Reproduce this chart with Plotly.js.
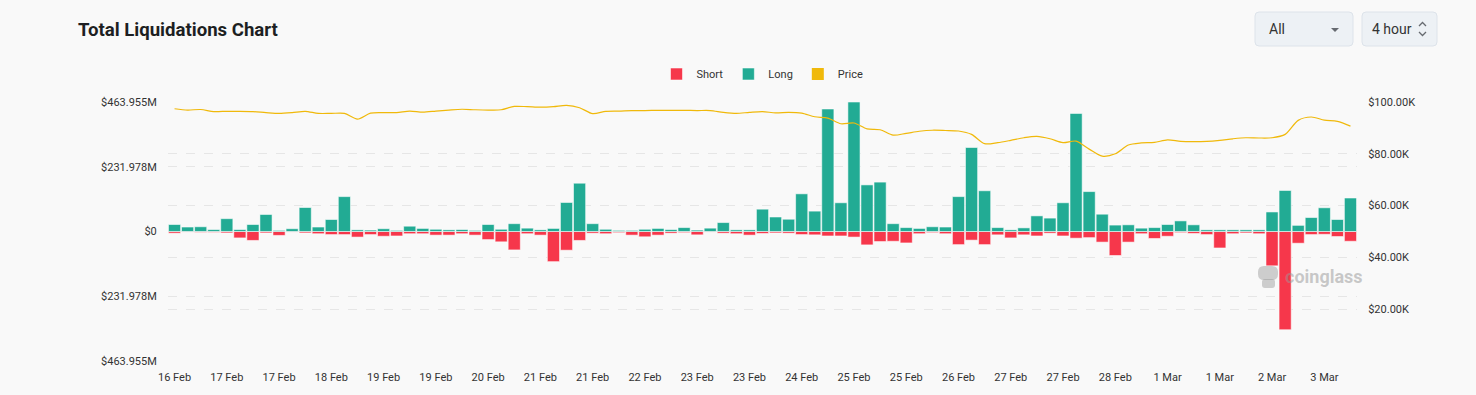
<!DOCTYPE html>
<html>
<head>
<meta charset="utf-8">
<script src="https://cdn.plot.ly/plotly-3.0.1.min.js"></script>
<style>
  html, body { margin: 0; padding: 0; background: #f9f9f9; }
  #chart { width: 1476px; height: 395px; }
</style>
</head>
<body>
<div id="chart"></div>
<script>
// ---- data (4-hour buckets) ----
const times = [
  "2025-02-16 08:00","2025-02-16 12:00","2025-02-16 16:00","2025-02-16 20:00",
  "2025-02-17 00:00","2025-02-17 04:00","2025-02-17 08:00","2025-02-17 12:00","2025-02-17 16:00","2025-02-17 20:00",
  "2025-02-18 00:00","2025-02-18 04:00","2025-02-18 08:00","2025-02-18 12:00","2025-02-18 16:00","2025-02-18 20:00",
  "2025-02-19 00:00","2025-02-19 04:00","2025-02-19 08:00","2025-02-19 12:00","2025-02-19 16:00","2025-02-19 20:00",
  "2025-02-20 00:00","2025-02-20 04:00","2025-02-20 08:00","2025-02-20 12:00","2025-02-20 16:00","2025-02-20 20:00",
  "2025-02-21 00:00","2025-02-21 04:00","2025-02-21 08:00","2025-02-21 12:00","2025-02-21 16:00","2025-02-21 20:00",
  "2025-02-22 00:00","2025-02-22 04:00","2025-02-22 08:00","2025-02-22 12:00","2025-02-22 16:00","2025-02-22 20:00",
  "2025-02-23 00:00","2025-02-23 04:00","2025-02-23 08:00","2025-02-23 12:00","2025-02-23 16:00","2025-02-23 20:00",
  "2025-02-24 00:00","2025-02-24 04:00","2025-02-24 08:00","2025-02-24 12:00","2025-02-24 16:00","2025-02-24 20:00",
  "2025-02-25 00:00","2025-02-25 04:00","2025-02-25 08:00","2025-02-25 12:00","2025-02-25 16:00","2025-02-25 20:00",
  "2025-02-26 00:00","2025-02-26 04:00","2025-02-26 08:00","2025-02-26 12:00","2025-02-26 16:00","2025-02-26 20:00",
  "2025-02-27 00:00","2025-02-27 04:00","2025-02-27 08:00","2025-02-27 12:00","2025-02-27 16:00","2025-02-27 20:00",
  "2025-02-28 00:00","2025-02-28 04:00","2025-02-28 08:00","2025-02-28 12:00","2025-02-28 16:00","2025-02-28 20:00",
  "2025-03-01 00:00","2025-03-01 04:00","2025-03-01 08:00","2025-03-01 12:00","2025-03-01 16:00","2025-03-01 20:00",
  "2025-03-02 00:00","2025-03-02 04:00","2025-03-02 08:00","2025-03-02 12:00","2025-03-02 16:00","2025-03-02 20:00",
  "2025-03-03 00:00","2025-03-03 04:00","2025-03-03 08:00"
];

// Long liquidations, $M
const longM = [
  25,16,17,7,46,7,25,61,4,10,
  86,16,43,125,6,5,10,4,19,11,
  8,6,7,4,25,8,28,12,6,11,
  104,173,28,8,4,4,8,11,7,14,
  5,12,32,6,6,80,52,44,135,73,
  439,103,463.955,167,177,28,14,11,17,16,
  125,301,146,14,6,13,56,48,103,423,
  143,62,23,24,12,14,25,38,24,6,
  6,6,6,6,70,147,22,50,85,43,
  120
];

// Short liquidations, $M (drawn below zero)
const shortM = [
  -6,-2,-3,-3,-5,-23,-32,-5,-14,-2,
  -5,-8,-11,-11,-20,-11,-17,-16,-8,-8,
  -13,-13,-8,-13,-29,-37,-66,-8,-13,-108,
  -67,-32,-6,-8,-4,-13,-19,-13,-6,-4,
  -12,-2,-6,-8,-13,-7,-5,-6,-11,-12,
  -16,-16,-20,-48,-36,-35,-41,-8,-4,-8,
  -47,-31,-47,-12,-23,-12,-16,-6,-16,-24,
  -22,-38,-86,-38,-8,-25,-17,-4,-7,-11,
  -59,-8,-5,-8,-123,-352,-42,-11,-10,-18,
  -35
];

// BTC price, $
const price = [
  97400,96900,97100,96300,96400,96400,96300,95900,95600,95900,
  96400,95600,95600,95600,93400,95700,95900,95900,96500,96100,
  96500,96900,97200,97000,96900,97000,98300,98200,98000,98200,
  98700,97800,95500,96400,96500,96700,96700,96800,96800,96800,
  96700,96700,96000,95600,96000,96300,95800,96000,95700,94300,
  93800,91600,91900,89600,89300,87200,87900,88700,89100,89000,
  88800,87500,83900,84300,85200,86200,86700,85800,84300,84900,
  81800,79100,80000,83400,84200,84400,85400,84800,84700,84800,
  85200,85800,86200,86100,86200,87500,92900,94200,93000,92500,
  90700
];

const leftTickVals = [-463.955, -231.978, 0, 231.978, 463.955];
const leftTickText = ["$463.955M", "$231.978M", "$0", "$231.978M", "$463.955M"];
const rightTickVals = [20000, 40000, 60000, 80000, 100000];
const rightTickText = ["$20.00K", "$40.00K", "$60.00K", "$80.00K", "$100.00K"];

// ---- layout helpers (pixel -> paper) ----
const PL = 168, PR = 1357, PT = 102, PB = 361;
const W = 1476, H = 395;
const px = x => (x - PL) / (PR - PL);
const py = y => (PB - y) / (PB - PT);
function roundRect(x0, y0, x1, y1, r) {
  const p = (x, y) => px(x) + ',' + py(y);
  return 'M' + p(x0 + r, y0) + ' L' + p(x1 - r, y0) + ' Q' + p(x1, y0) + ' ' + p(x1, y0 + r) +
         ' L' + p(x1, y1 - r) + ' Q' + p(x1, y1) + ' ' + p(x1 - r, y1) +
         ' L' + p(x0 + r, y1) + ' Q' + p(x0, y1) + ' ' + p(x0, y1 - r) +
         ' L' + p(x0, y0 + r) + ' Q' + p(x0, y0) + ' ' + p(x0 + r, y0) + ' Z';
}
function poly(pts, close) {
  return pts.map((q, i) => (i ? 'L' : 'M') + px(q[0]) + ',' + py(q[1])).join(' ') + (close ? ' Z' : '');
}

const GREEN = '#22ab94';
const RED = '#f6374b';
const GOLD = '#f0b90b';
const FONT = 'Roboto, "Noto Sans", sans-serif';

const traces = [
  {
    type: 'bar', name: 'Short', x: times, y: shortM,
    marker: { color: RED, line: { color: 'rgba(255,255,255,0.55)', width: 1 } },
    hoverinfo: 'skip'
  },
  {
    type: 'bar', name: 'Long', x: times, y: longM,
    marker: { color: GREEN, line: { color: 'rgba(255,255,255,0.55)', width: 1 } },
    hoverinfo: 'skip'
  },
  {
    // legend entry only (square swatch for Price)
    type: 'bar', name: 'Price', x: [times[0]], y: [null], yaxis: 'y2',
    marker: { color: GOLD, line: { width: 0 } }, hoverinfo: 'skip'
  },
  {
    type: 'scatter', mode: 'lines', name: 'Price', x: times, y: price, yaxis: 'y2',
    line: { color: GOLD, width: 1.2, shape: 'spline', smoothing: 0.8 },
    showlegend: false, hoverinfo: 'skip'
  }
];

const layout = {
  width: W, height: H,
  margin: { l: PL, r: W - PR, t: PT, b: H - PB, pad: 0 },
  paper_bgcolor: '#f9f9f9',
  plot_bgcolor: '#f9f9f9',
  font: { family: FONT, size: 11, color: '#333333' },
  barmode: 'relative',
  bargap: 0.07,
  title: {
    text: 'Total Liquidations Chart',
    font: { family: FONT, size: 18.6, color: '#1d1f22', weight: 700 },
    x: 78 / W, xref: 'container', xanchor: 'left',
    y: 1 - 29 / H, yref: 'container', yanchor: 'middle'
  },
  showlegend: true,
  legend: {
    orientation: 'h', x: 0.5, xanchor: 'center', y: py(74), yanchor: 'middle',
    font: { family: FONT, size: 11, color: '#333333' },
    bgcolor: 'rgba(0,0,0,0)', itemwidth: 30, traceorder: 'normal'
  },
  xaxis: {
    type: 'date',
    range: ['2025-02-16 06:00', '2025-03-03 10:00'],
    tick0: '2025-02-16 08:00', dtick: 16 * 3600 * 1000,
    tickformat: '%-d %b',
    showgrid: false, zeroline: false, showline: false,
    ticks: 'outside', ticklen: 6, tickcolor: 'rgba(0,0,0,0)',
    tickfont: { family: FONT, size: 11, color: '#333333' },
    fixedrange: true
  },
  yaxis: {
    range: [-463.955, 463.955],
    tickvals: leftTickVals, ticktext: leftTickText,
    showgrid: true, gridcolor: '#e6e6e6', griddash: 'dash', gridwidth: 1,
    zeroline: false, showline: false,
    ticks: 'outside', ticklen: 8, tickcolor: 'rgba(0,0,0,0)',
    tickfont: { family: FONT, size: 11, color: '#333333' },
    fixedrange: true
  },
  yaxis2: {
    overlaying: 'y', side: 'right',
    range: [0, 100000],
    tickvals: rightTickVals, ticktext: rightTickText,
    showgrid: true, gridcolor: '#e6e6e6', griddash: 'dash', gridwidth: 1,
    zeroline: false, showline: false,
    ticks: 'outside', ticklen: 8, tickcolor: 'rgba(0,0,0,0)',
    tickfont: { family: FONT, size: 11, color: '#333333' },
    fixedrange: true
  },
  shapes: [
    // "All" dropdown box
    { type: 'path', xref: 'paper', yref: 'paper', path: roundRect(1255, 12, 1353, 46, 4),
      fillcolor: '#edf1f5', line: { color: '#dde3ea', width: 1 }, layer: 'above' },
    { type: 'path', xref: 'paper', yref: 'paper', path: poly([[1331, 28], [1339, 28], [1335, 32]], true),
      fillcolor: '#666a70', line: { width: 0 }, layer: 'above' },
    // "4 hour" box
    { type: 'path', xref: 'paper', yref: 'paper', path: roundRect(1362, 12, 1437, 46, 4),
      fillcolor: '#edf1f5', line: { color: '#dde3ea', width: 1 }, layer: 'above' },
    { type: 'path', xref: 'paper', yref: 'paper', path: poly([[1419, 26], [1422.5, 22.5], [1426, 26]], false),
      line: { color: '#666a70', width: 1.3 }, layer: 'above' },
    { type: 'path', xref: 'paper', yref: 'paper', path: poly([[1419, 32], [1422.5, 35.5], [1426, 32]], false),
      line: { color: '#666a70', width: 1.3 }, layer: 'above' },
    // watermark logo blob
    { type: 'path', xref: 'paper', yref: 'paper', path: roundRect(1258, 266, 1278, 280, 6),
      fillcolor: 'rgba(150,150,150,0.45)', line: { width: 0 }, layer: 'above' },
    { type: 'path', xref: 'paper', yref: 'paper', path: roundRect(1262, 279, 1275, 288, 3),
      fillcolor: 'rgba(150,150,150,0.45)', line: { width: 0 }, layer: 'above' }
  ],
  annotations: [
    { text: 'All', xref: 'paper', yref: 'paper', x: px(1267), y: py(29), xanchor: 'left', yanchor: 'middle',
      showarrow: false, font: { family: FONT, size: 14, color: '#333333' } },
    { text: '4 hour', xref: 'paper', yref: 'paper', x: px(1370), y: py(29), xanchor: 'left', yanchor: 'middle',
      showarrow: false, font: { family: FONT, size: 14, color: '#333333' } },
    { text: 'coinglass', xref: 'paper', yref: 'paper', x: px(1283), y: py(276), xanchor: 'left', yanchor: 'middle',
      showarrow: false, font: { family: FONT, size: 18, color: 'rgba(150,150,150,0.5)', weight: 700 } }
  ]
};

Plotly.newPlot('chart', traces, layout, { displayModeBar: false, staticPlot: true });
</script>
</body>
</html>
